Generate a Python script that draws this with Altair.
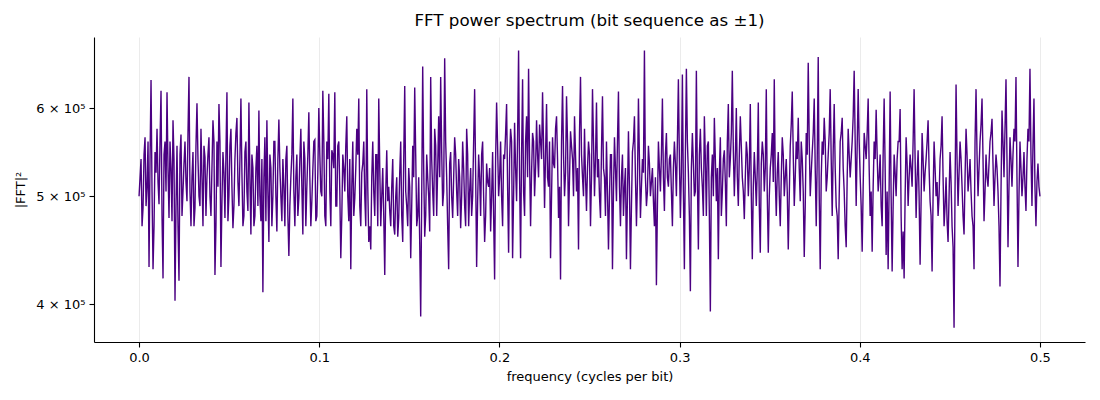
import altair as alt
import pandas as pd

# |FFT|^2 values, in thousands.
# power_k: values at the even positions (f = 0, 2*df, 4*df, ... 0.5)
power_k = [
    500, 540, 488, 565, 510, 432, 636, 430, 548, 575, 492, 622, 422, 560, 620, 478, 530, 585, 403, 555, 420, 568, 505, 560, 495,
    640, 470, 548, 488, 606, 500, 575, 470, 542, 520, 565, 480, 585, 425, 560, 605, 432, 548, 478, 620, 500, 575, 468, 540, 588,
    490, 612, 470, 548, 505, 607, 462, 530, 480, 555, 597, 475, 410, 565, 585, 455, 530, 500, 560, 465, 586, 500, 540, 470, 555,
    442, 520, 612, 470, 545, 498, 575, 462, 540, 510, 595, 470, 528, 562, 480, 600, 505, 622, 480, 560, 618, 470, 545, 620, 490,
    560, 440, 545, 505, 590, 475, 430, 560, 498, 575, 612, 470, 535, 500, 624, 455, 448, 560, 480, 545, 612, 470, 530, 425, 550,
    510, 470, 540, 462, 520, 478, 560, 455, 628, 490, 530, 440, 555, 626, 470, 520, 390, 654, 460, 545, 500, 640, 505, 575, 480,
    590, 640, 490, 665, 520, 430, 548, 478, 565, 505, 540, 468, 560, 490, 575, 470, 530, 500, 624, 432, 545, 480, 560, 455, 535,
    510, 465, 548, 421, 607, 500, 560, 470, 540, 605, 445, 575, 440, 582, 495, 676, 440, 637, 480, 590, 651, 470, 570, 500, 585,
    520, 560, 620, 488, 605, 510, 440, 565, 530, 590, 478, 421, 628, 500, 615, 470, 572, 540, 590, 505, 448, 640, 520, 575, 485,
    560, 470, 624, 500, 607, 540, 478, 615, 520, 560, 448, 545, 430, 565, 495, 621, 470, 545, 510, 439, 572, 430, 548, 590, 470,
    612, 478, 540, 676, 490, 555, 500, 530, 470, 416, 560, 505, 612, 485, 570, 510, 545, 470, 560, 500, 637, 478, 643, 430, 651,
    525, 411, 570, 500, 648, 448, 575, 510, 590, 480, 560, 394, 545, 588, 495, 439, 565, 505, 550, 470, 605, 540, 648, 500, 600,
    490, 590, 520, 477, 560, 500, 605, 439, 548, 490, 607, 445, 560, 505, 624, 445, 530, 570, 637, 480, 548, 470, 565, 500, 540,
    448, 555, 621, 490, 560, 588, 495, 540, 441, 570, 659, 500, 548, 612, 470, 667, 430, 560, 588, 505, 545, 624, 480, 605, 490,
    439, 560, 588, 505, 450, 575, 520, 560, 648, 490, 624, 520, 446, 570, 540, 612, 480, 446, 560, 598, 505, 545, 470, 612, 443,
    430, 621, 428, 545, 500, 560, 599, 430, 422, 565, 490, 545, 510, 624, 478, 550, 434, 570, 505, 540, 585, 495, 428, 560, 500,
    480, 540, 590, 470, 520, 455, 548, 470, 381, 630, 490, 560, 510, 462, 575, 505, 540, 480, 430, 624, 500, 560, 612, 475, 545,
    510, 560, 587, 490, 545, 505, 415, 597, 520, 637, 450, 565, 510, 575, 640, 432, 560, 500, 548, 485, 575, 651, 490, 612, 470,
    535, 500,
]
# mid_k: values at the odd positions in between (dense core of the band)
mid_k = [
    520, 470, 545, 490, 560, 540, 505, 470, 525, 515, 560, 480, 545, 505, 530, 560, 475, 540, 490, 470, 545, 480, 535, 515, 570,
    505, 520, 470, 555, 540, 490, 520, 555, 480, 545, 500, 530, 560, 470, 510, 560, 495, 525, 545, 475, 555, 510, 490, 570, 515,
    540, 525, 480, 560, 485, 520, 545, 470, 530, 490, 500, 540, 520, 475, 505, 545, 470, 560, 500, 540, 530, 475, 510, 540, 480,
    490, 545, 505, 520, 480, 540, 510, 560, 470, 545, 520, 495, 560, 475, 525, 545, 500, 560, 470, 540, 505, 550, 530, 490, 555,
    505, 480, 530, 555, 500, 540, 510, 480, 530, 545, 490, 525, 560, 470, 510, 470, 520, 505, 545, 470, 530, 500, 480, 505, 495,
    485, 510, 470, 500, 460, 525, 480, 540, 505, 470, 510, 490, 520, 545, 480, 455, 500, 530, 480, 520, 465, 540, 480, 555, 530,
    520, 550, 505, 560, 470, 535, 500, 520, 545, 480, 520, 500, 530, 470, 545, 505, 480, 560, 525, 495, 520, 545, 500, 480, 515,
    530, 500, 480, 540, 555, 520, 500, 545, 570, 510, 540, 560, 500, 530, 565, 520, 545, 505, 560, 520, 540, 525, 560, 530, 545,
    580, 540, 555, 545, 520, 560, 500, 535, 575, 540, 510, 560, 545, 525, 560, 520, 555, 500, 545, 530, 570, 545, 500, 520, 530,
    545, 520, 560, 540, 520, 500, 550, 530, 480, 505, 500, 545, 505, 530, 560, 510, 520, 480, 530, 500, 510, 490, 560, 520, 515,
    540, 510, 525, 520, 505, 535, 515, 495, 520, 490, 530, 545, 520, 545, 520, 540, 505, 530, 535, 560, 540, 525, 505, 545, 560,
    480, 530, 535, 505, 520, 545, 530, 480, 540, 555, 480, 520, 500, 540, 530, 525, 480, 540, 515, 560, 520, 570, 550, 540, 520,
    545, 555, 505, 520, 545, 530, 500, 510, 520, 530, 490, 535, 545, 530, 500, 500, 545, 515, 520, 525, 500, 520, 545, 520, 505,
    500, 580, 545, 520, 540, 530, 560, 505, 490, 545, 560, 525, 570, 530, 540, 500, 520, 545, 560, 520, 570, 540, 550, 530, 480,
    500, 570, 530, 470, 520, 545, 540, 590, 560, 555, 560, 490, 510, 555, 570, 530, 505, 510, 540, 545, 520, 490, 545, 530, 505,
    510, 500, 490, 525, 540, 560, 480, 465, 500, 535, 520, 530, 560, 540, 520, 500, 495, 540, 525, 560, 530, 480, 500, 530, 515,
    500, 555, 520, 490, 475, 500, 515, 450, 510, 540, 525, 540, 480, 520, 545, 520, 505, 470, 560, 545, 530, 580, 540, 505, 520,
    535, 570, 535, 520, 530, 470, 505, 560, 575, 540, 510, 540, 545, 560, 520, 500, 530, 520, 510, 540, 560, 545, 555, 510, 515,
    510,
]

series_k = []
for i, v in enumerate(power_k):
    series_k.append(v)
    if i < len(mid_k):
        series_k.append(mid_k[i])

n = len(series_k)
freq = [i * 0.5 / (n - 1) for i in range(n)]
power = [v * 1000 for v in series_k]

x_ticks = [0.0, 0.1, 0.2, 0.3, 0.4, 0.5]
y_ticks = [400000, 500000, 600000]

df = pd.DataFrame({"freq": freq, "power": power})

FONT = "DejaVu Sans"

chart = (
    alt.Chart(df)
    .mark_line(color="#4b0082", strokeWidth=1.4, clip=True)
    .encode(
        x=alt.X(
            "freq:Q",
            title="frequency (cycles per bit)",
            scale=alt.Scale(domain=[-0.025, 0.525], nice=False, zero=False),
            axis=alt.Axis(
                values=x_ticks,
                format=".1f",
                grid=True,
                gridColor="#e6e6e6",
                gridWidth=0.8,
                domainColor="#000000",
                domainWidth=1.1,
                tickColor="#000000",
                tickWidth=1.1,
                tickSize=5,
                labelPadding=4,
                labelFontSize=13,
                labelColor="#000000",
                labelFont=FONT,
                titleFont=FONT,
                titleFontSize=13,
                titleFontWeight="normal",
                titleColor="#000000",
                titlePadding=6,
                labelFlush=False,
            ),
        ),
        y=alt.Y(
            "power:Q",
            title="|FFT|²",
            scale=alt.Scale(type="log", domain=[370000, 695000], nice=False, zero=False),
            axis=alt.Axis(
                values=y_ticks,
                labelExpr="format(datum.value / 100000, 'd') + ' × 10⁵'",
                grid=False,
                domainColor="#000000",
                domainWidth=1.1,
                tickColor="#000000",
                tickWidth=1.1,
                tickSize=5,
                labelPadding=4,
                labelFontSize=13,
                labelColor="#000000",
                labelFont=FONT,
                titleFont=FONT,
                titleFontSize=13,
                titleFontWeight="normal",
                titleColor="#000000",
                titlePadding=8,
                labelFlush=False,
            ),
        ),
    )
    .properties(
        width=991,
        height=305,
        title=alt.TitleParams(
            "FFT power spectrum (bit sequence as ±1)",
            font=FONT,
            fontSize=16.7,
            fontWeight="normal",
            color="#000000",
            anchor="middle",
            offset=7,
        ),
        autosize=alt.AutoSizeParams(type="none"),
        padding={"left": 86, "top": 29, "right": 7, "bottom": 50},
    )
    .configure_view(stroke=None)
)

chart.save("out.html", embed_options={"renderer": "svg", "actions": False})
